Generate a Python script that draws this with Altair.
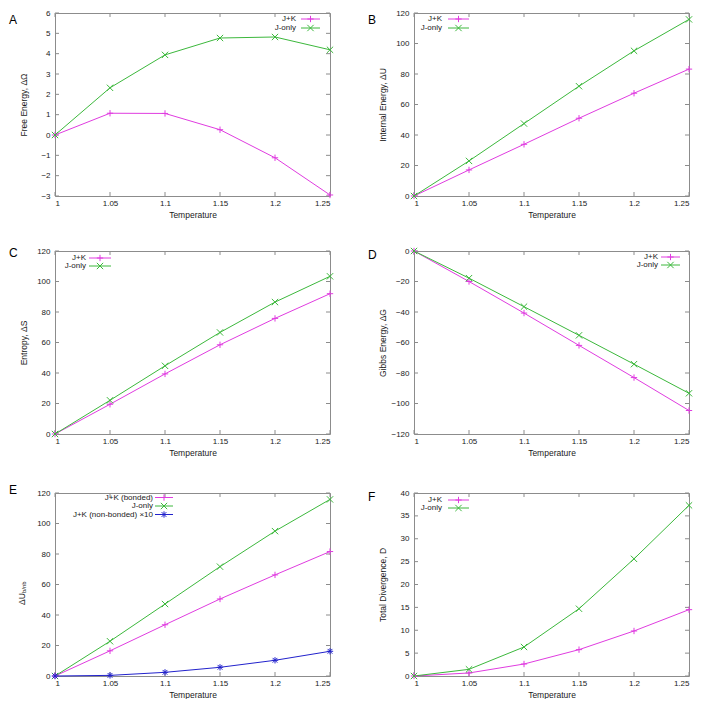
import altair as alt
import pandas as pd

FONT = "Liberation Sans"
TXT = "#1a1a1a"
BORDER = "#8c8c8c"

# ---- data ----
T = [1.0, 1.05, 1.1, 1.15, 1.2, 1.25]

A_jk = [0, 1.07, 1.06, 0.26, -1.12, -2.95]
A_j = [0, 2.32, 3.94, 4.77, 4.82, 4.19]
B_jk = [0, 17.1, 33.9, 51.0, 67.4, 83.2]
B_j = [0, 23.0, 47.5, 72.0, 95.2, 115.8]
C_jk = [0, 19.5, 39.4, 58.5, 75.8, 92.0]
C_j = [0, 22.1, 44.7, 66.6, 86.5, 103.4]
D_jk = [0, -20.0, -40.7, -61.9, -83.0, -104.6]
D_j = [0, -17.8, -36.5, -55.3, -74.2, -93.3]
E_jk = [0, 16.5, 33.6, 50.5, 66.3, 81.6]
E_j = [0, 22.8, 47.2, 71.7, 95.0, 115.8]
E_nb = [0, 0.4, 2.4, 5.7, 10.3, 16.2]
F_jk = [0, 0.66, 2.62, 5.76, 9.84, 14.5]
F_j = [0, 1.46, 6.34, 14.7, 25.6, 37.3]

A_ticks = [-3, -2, -1, 0, 1, 2, 3, 4, 5, 6]
B_ticks = [0, 20, 40, 60, 80, 100, 120]
D_ticks = [-120, -100, -80, -60, -40, -20, 0]
F_ticks = [0, 5, 10, 15, 20, 25, 30, 35, 40]

KEYS = ["jk", "j", "nb"]
COLORS = ["#e03ce0", "#3cb83c", "#2222cc"]
PLUS = "M-1,0L1,0M0,-1L0,1"
CROSS = "M-1,-1L1,1M-1,1L1,-1"
STAR = "M-1,0L1,0M0,-1L0,1M-0.75,-0.75L0.75,0.75M-0.75,0.75L0.75,-0.75"
SHAPES = [PLUS, CROSS, STAR]

W, H = 275, 183
TK = 4
MSIZE = 40


def panel(letter, letter_y, ytitle, ydom, yticks, series, leg_right, leg_line, leg_rows):
    rows = []
    for key, label, vals in series:
        for t, v in zip(T, vals):
            rows.append({"T": t, "v": v, "s": key})
    df = pd.DataFrame(rows)

    xenc = alt.X("T:Q", scale=alt.Scale(domain=[1, 1.25], nice=False, zero=False),
                 axis=alt.Axis(values=T, format=".2~f", title="Temperature",
                               labelPadding=3, titleY=14))
    yaxis_kw = dict(values=yticks, format="d", labelPadding=5)
    if ytitle is None:
        yaxis_kw["title"] = None
    else:
        yaxis_kw.update(title=ytitle, titleX=-32, titleBaseline="middle")
    yenc = alt.Y("v:Q", scale=alt.Scale(domain=ydom, nice=False, zero=False),
                 axis=alt.Axis(**yaxis_kw))
    cenc = alt.Color("s:N", scale=alt.Scale(domain=KEYS, range=COLORS), legend=None)
    senc = alt.Shape("s:N", scale=alt.Scale(domain=KEYS, range=SHAPES), legend=None)

    base = alt.Chart(df)
    lines = base.mark_line(strokeWidth=1).encode(x=xenc, y=yenc, color=cenc)
    pts = base.mark_point(filled=False, size=MSIZE, strokeWidth=1, opacity=1).encode(
        x=xenc, y=yenc, color=cenc, shape=senc)

    ydf = alt.Chart(pd.DataFrame({"v": yticks}))
    xdf = alt.Chart(pd.DataFrame({"T": T}))
    tk = dict(color=BORDER, strokeWidth=1)
    yt1 = ydf.mark_rule(**tk).encode(y=yenc, x=alt.value(0), x2=alt.value(TK))
    yt2 = ydf.mark_rule(**tk).encode(y=yenc, x=alt.value(W - TK), x2=alt.value(W))
    xt1 = xdf.mark_rule(**tk).encode(x=xenc, y=alt.value(H), y2=alt.value(H - TK))
    xt2 = xdf.mark_rule(**tk).encode(x=xenc, y=alt.value(0), y2=alt.value(TK))

    layers = [yt1, yt2, xt1, xt2, lines, pts]

    for (key, label, vals), ly in zip(series, leg_rows):
        i = KEYS.index(key)
        one = alt.Chart(pd.DataFrame({"label": [label]}))
        layers.append(one.mark_text(align="right", baseline="middle", font=FONT,
                                    fontSize=8, color=TXT).encode(
            x=alt.value(leg_right), y=alt.value(ly), text="label:N"))
        layers.append(one.mark_rule(color=COLORS[i], strokeWidth=1).encode(
            x=alt.value(leg_line[0]), x2=alt.value(leg_line[1]), y=alt.value(ly)))
        layers.append(one.mark_point(shape=SHAPES[i], color=COLORS[i], filled=False,
                                     size=MSIZE, strokeWidth=1, opacity=1).encode(
            x=alt.value((leg_line[0] + leg_line[1]) / 2), y=alt.value(ly)))

    lt = alt.Chart(pd.DataFrame({"l": [letter]}))
    layers.append(lt.mark_text(align="left", baseline="alphabetic", font=FONT,
                               fontSize=12, color="#000").encode(
        x=alt.value(-46), y=alt.value(letter_y), text="l:N"))

    if ytitle is None:
        t1 = alt.Chart(pd.DataFrame({"t": ["\u0394U"]}))
        layers.append(t1.mark_text(align="left", baseline="middle", angle=270,
                                   font=FONT, fontSize=8.5, color=TXT).encode(
            x=alt.value(-33), y=alt.value(112), text="t:N"))
        t2 = alt.Chart(pd.DataFrame({"t": ["b/nb"]}))
        layers.append(t2.mark_text(align="left", baseline="middle", angle=270,
                                   font=FONT, fontSize=6, color=TXT).encode(
            x=alt.value(-31), y=alt.value(100), text="t:N"))

    return alt.layer(*layers).properties(width=W, height=H)


pA = panel("A", 10.5, "Free Energy, \u0394\u03a9", [-3, 6], A_ticks,
           [("jk", "J+K", A_jk), ("j", "J-only", A_j)],
           241, (246, 265), [6, 15])
pB = panel("B", 10.5, "Internal Energy, \u0394U", [0, 120], B_ticks,
           [("jk", "J+K", B_jk), ("j", "J-only", B_j)],
           28, (34, 55), [6, 15])
pC = panel("C", 5.5, "Entropy, \u0394S", [0, 120], B_ticks,
           [("jk", "J+K", C_jk), ("j", "J-only", C_j)],
           31, (34, 56), [7, 15])
pD = panel("D", 7.5, "Gibbs Energy, \u0394G", [-120, 0], D_ticks,
           [("jk", "J+K", D_jk), ("j", "J-only", D_j)],
           244, (247, 266), [6, 14])
pE = panel("E", 0.5, None, [0, 120], B_ticks,
           [("jk", "J+K (bonded)", E_jk), ("j", "J-only", E_j),
            ("nb", "J+K (non-bonded) \u00d710", E_nb)],
           98, (100, 118), [4.5, 13, 21.5])
pF = panel("F", 7.5, "Total Divergence, D", [0, 40], F_ticks,
           [("jk", "J+K", F_jk), ("j", "J-only", F_j)],
           28, (34, 55), [7, 15])

chart = alt.vconcat(
    alt.hconcat(pA, pB, spacing=31),
    alt.hconcat(pC, pD, spacing=31),
    alt.hconcat(pE, pF, spacing=31),
    spacing=26,
).properties(
    padding={"left": 0, "top": 0, "right": 0, "bottom": 0},
    background="white",
).configure_view(
    stroke=BORDER, strokeWidth=1
).configure_axis(
    labelFont=FONT, labelFontSize=8, labelColor=TXT,
    titleFont=FONT, titleFontSize=8.5, titleFontWeight="normal", titleColor=TXT,
    domain=False, ticks=False, grid=False,
)

chart.save("out.html", embed_options={"renderer": "svg", "actions": False})
